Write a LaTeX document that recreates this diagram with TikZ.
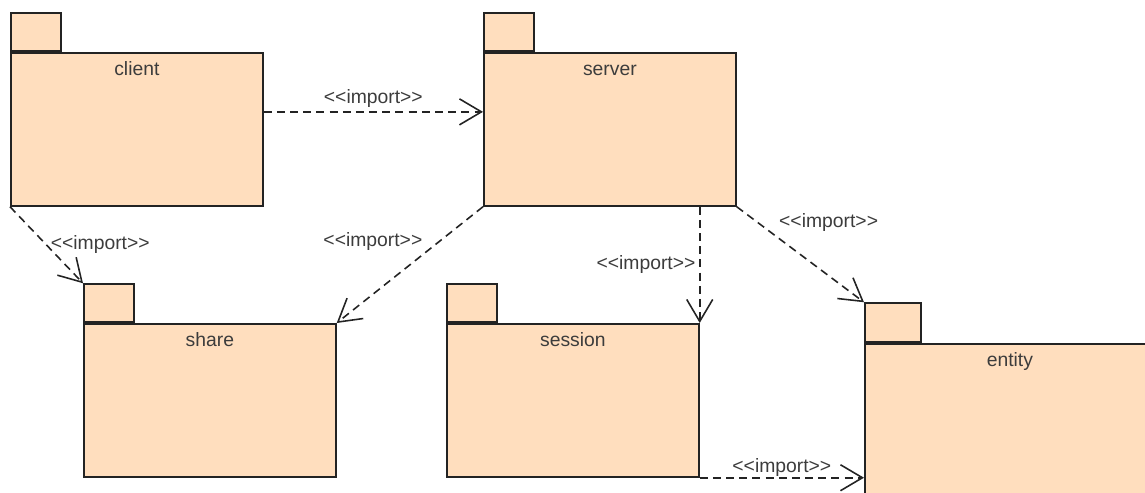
\documentclass[tikz,border=0pt]{standalone}
\usepackage{fontspec}
\setmainfont{Liberation Sans}
\usetikzlibrary{arrows.meta, positioning}
\definecolor{pkgfill}{RGB}{255, 222, 190}
\definecolor{pkgline}{RGB}{35, 35, 35}
\definecolor{textgray}{RGB}{60, 60, 60}

\begin{document}
\begin{tikzpicture}[x=0.02cm, y=-0.02cm,
    pkg/.style={rectangle, draw=pkgline, fill=pkgfill, line width=1pt, minimum width=5.04cm, minimum height=3.06cm, anchor=north west, inner sep=0pt},
    tab/.style={rectangle, draw=pkgline, fill=pkgfill, line width=1pt, minimum width=1cm, minimum height=0.76cm, anchor=south west, inner sep=0pt},
    pkgname/.style={anchor=north, text=textgray, font=\fontsize{11}{13}\selectfont, inner sep=0pt, text height=8pt, yshift=-0.18cm},
    imports/.style={draw=pkgline, line width=0.9pt, dash pattern=on 4.5pt off 3pt, -{Straight Barb[length=4.4mm, width=5.2mm]}},
    stereo/.style={text=textgray, font=\fontsize{11}{13}\selectfont, inner sep=2pt}
]
    \useasboundingbox (0,0) rectangle (1145,493);

    % packages
    \node[pkg, label={[pkgname]north:client}] (client) at (10,52) {};
    \node[tab] (client-tab) at (client.north west) {};
    \node[pkg, label={[pkgname]north:server}] (server) at (483,52) {};
    \node[tab] (server-tab) at (server.north west) {};
    \node[pkg, label={[pkgname]north:share}] (share) at (83,323) {};
    \node[tab] (share-tab) at (share.north west) {};
    \node[pkg, label={[pkgname]north:session}] (session) at (446,323) {};
    \node[tab] (session-tab) at (session.north west) {};
    \node[pkg, minimum width=5.8cm, label={[pkgname]north:entity}] (entity) at (864,343) {};
    \node[tab, minimum width=1.12cm, minimum height=0.78cm] (entity-tab) at (entity.north west) {};

    % import dependencies
    \draw[imports] ([yshift=0.35cm]client.east) -- node[stereo, above] {<{}<import>{}>} ([yshift=0.35cm]server.west);
    \draw[imports] (client.south west) -- node[stereo, right] {<{}<import>{}>} (share-tab.north west);
    \draw[imports] (server.south west) -- node[stereo, left, pos=0.3, xshift=-0.25cm] {<{}<import>{}>} (share.north east);
    \draw[imports] (session.north east |- server.south) -- node[stereo, left] {<{}<import>{}>} (session.north east);
    \draw[imports] (server.south east) -- node[stereo, above right, pos=0.3] {<{}<import>{}>} (entity-tab.north west);
    \draw[imports] (session.south east) -- node[stereo, above, inner sep=0.5pt] {<{}<import>{}>} (session.south east -| entity.west);
\end{tikzpicture}
\end{document}
